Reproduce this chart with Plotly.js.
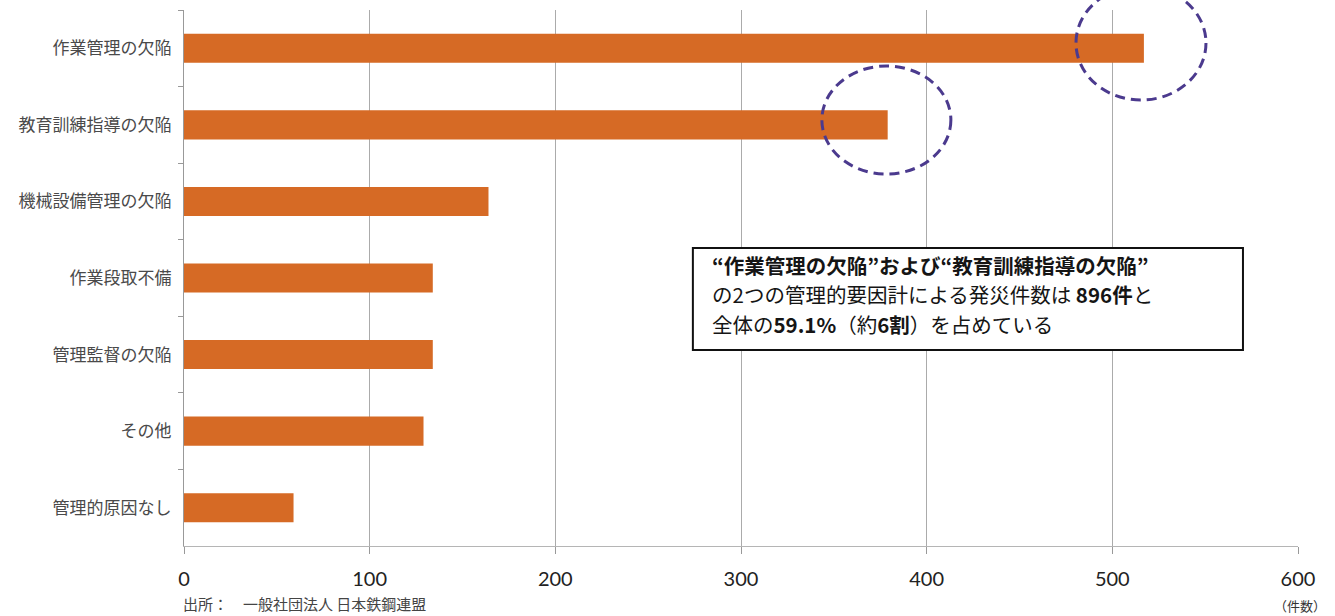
<!DOCTYPE html>
<html>
<head>
<meta charset="utf-8">
<script src="https://cdn.plot.ly/plotly-3.0.1.min.js"></script>
<style>html,body{margin:0;padding:0;background:#fff;}#chart{width:1335px;height:616px;}</style>
</head>
<body>
<div id="chart"></div>
<script>
// Data
const categories = ["作業管理の欠陥", "教育訓練指導の欠陥", "機械設備管理の欠陥", "作業段取不備", "管理監督の欠陥", "その他", "管理的原因なし"];
const counts = [517, 379, 164, 134, 134, 129, 59];
const xTickValues = [0, 100, 200, 300, 400, 500, 600];
const noteLines = [
  "<b>“作業管理の欠陥”および“教育訓練指導の欠陥”</b>",
  "の2つの管理的要因計による発災件数は <b>896件</b>と",
  "全体の<b>59.1%</b>（約<b>6割</b>）を占めている"
];
const sourceText = "出所：　一般社団法人 日本鉄鋼連盟";
const unitText = "（件数）";

const trace = {
  type: "bar",
  orientation: "h",
  y: categories,
  x: counts,
  marker: {color: "#D66A25", line: {width: 0}},
  hoverinfo: "x+y"
};

// plot area: top 10px, bottom 546px (536px tall)
const noteYpx = [264.5, 294, 323.5];
const annotations = noteLines.map((t, i) => ({
  text: t, xref: "paper", yref: "paper", x: 0.472, y: (546 - noteYpx[i]) / 536,
  xanchor: "left", yanchor: "middle", showarrow: false, align: "left",
  font: {family: "Noto Sans CJK JP", size: 20.5, color: "#151515"}
}));
annotations.push({
  text: sourceText, xref: "paper", yref: "paper", x: -0.003, y: -0.1082,
  xanchor: "left", yanchor: "middle", showarrow: false,
  font: {family: "Noto Sans CJK JP", size: 15, color: "#444"}
});
annotations.push({
  text: unitText, xref: "paper", yref: "paper", x: 1.0018, y: -0.1119,
  xanchor: "center", yanchor: "middle", showarrow: false,
  font: {family: "Noto Sans CJK JP", size: 13, color: "#333"}
});

const ellipseLine = {color: "#4B3A8E", width: 3, dash: "10px,6px"};
const shapes = [
  {type: "rect", xref: "paper", yref: "paper", x0: 0.4568, x1: 0.9506, y0: 0.3657, y1: 0.556,
   line: {color: "#111", width: 2}, fillcolor: "#fff", layer: "above"},
  {type: "circle", xref: "paper", yref: "paper", x0: 0.8007, x1: 0.9174, y0: 0.832, y1: 1.0448,
   line: ellipseLine, fillcolor: "rgba(0,0,0,0)", layer: "above"},
  {type: "circle", xref: "paper", yref: "paper", x0: 0.5726, x1: 0.6884, y0: 0.694, y1: 0.8955,
   line: ellipseLine, fillcolor: "rgba(0,0,0,0)", layer: "above"}
];

const layout = {
  width: 1335, height: 616,
  margin: {l: 184, r: 37, t: 10, b: 70},
  paper_bgcolor: "#fff", plot_bgcolor: "#fff",
  showlegend: false,
  bargap: 0.62,
  xaxis: {
    range: [0, 600], tickvals: xTickValues, ticktext: xTickValues.map(String),
    showgrid: true, gridcolor: "#ABABAB", gridwidth: 1,
    zeroline: false, showline: true, linecolor: "#B5B5B5", linewidth: 1,
    ticks: "outside", ticklen: 7, tickcolor: "#999", tickwidth: 1,
    ticklabelstandoff: 8,
    tickfont: {family: "Lato, Liberation Sans, sans-serif", size: 20, color: "#222"},
    fixedrange: true
  },
  yaxis: {
    type: "category", categoryorder: "array", categoryarray: categories,
    autorange: "reversed",
    showgrid: false, zeroline: false, showline: true, linecolor: "#999", linewidth: 1,
    ticks: "outside", tickson: "boundaries", ticklen: 5, tickcolor: "#999",
    ticklabelstandoff: 8,
    tickfont: {family: "Noto Sans CJK JP", size: 17, color: "#4a4a4a"},
    fixedrange: true
  },
  annotations: annotations,
  shapes: shapes
};

Plotly.newPlot("chart", [trace], layout, {displayModeBar: false, staticPlot: true});
</script>
</body>
</html>
